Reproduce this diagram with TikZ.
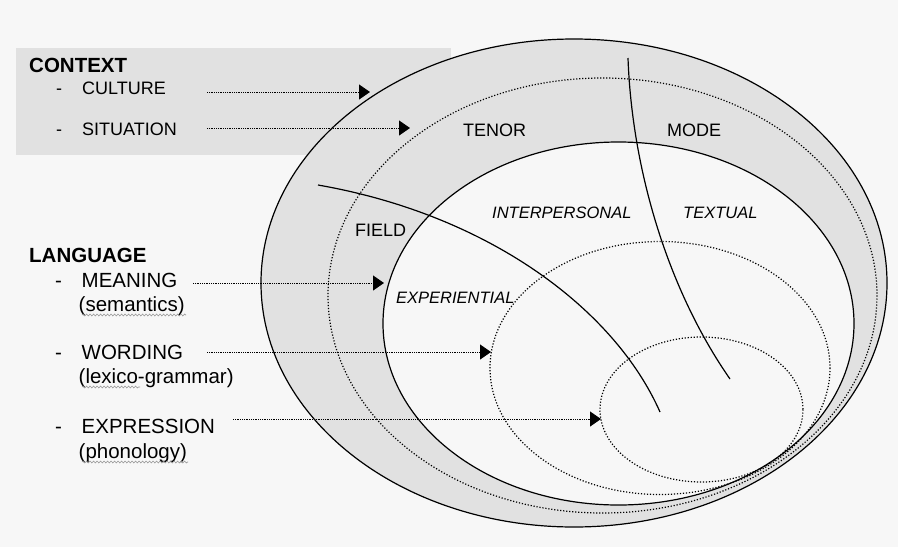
\documentclass[tikz,border=0pt]{standalone}
\usepackage{fontspec}
\setmainfont{Liberation Sans}
\usepackage{xcolor}
\usetikzlibrary{arrows.meta,decorations.pathmorphing}

\definecolor{paper}{RGB}{247,247,247}
\definecolor{band}{RGB}{225,225,225}
\definecolor{squiggle}{RGB}{150,150,150}

\begin{document}
\begin{tikzpicture}[x=1pt,y=-1pt,line join=round]
  \tikzstyle{headtxt}=[inner sep=0pt,anchor=base west,font=\fontsize{20.5}{22}\selectfont\bfseries]
  \tikzstyle{ctx}=[inner sep=0pt,anchor=base west,font=\fontsize{18}{20}\selectfont]
  \tikzstyle{lang}=[inner sep=0pt,anchor=base west,font=\fontsize{20.5}{22}\selectfont]
  \tikzstyle{stratum}=[inner sep=0pt,anchor=base west,font=\fontsize{18}{20}\selectfont]
  \tikzstyle{metafn}=[inner sep=0pt,anchor=base west,font=\fontsize{16.5}{18}\selectfont\itshape]
  \tikzstyle{ring}=[line width=1.2pt]
  \tikzstyle{dotring}=[line width=1.2pt,dash pattern=on 1.2pt off 1.8pt]
  \tikzstyle{feed}=[line width=1pt,dash pattern=on 1pt off 0.8pt,-{Triangle[length=11pt,width=15pt]}]
  \tikzstyle{spell}=[squiggle,line width=0.6pt,decorate,decoration={snake,amplitude=1pt,segment length=3.5pt}]
  \useasboundingbox (0,0) rectangle (898,547);
  % page and context box
  \fill[paper] (0,0) rectangle (898,547);
  \fill[band] (16,48) rectangle (451,155);
  % strata
  \filldraw[ring,fill=band] (574,283) ellipse [x radius=313,y radius=244];
  \draw[dotring] (602.5,295.5) ellipse [x radius=274.5,y radius=217.5];
  \filldraw[ring,fill=paper] (618.5,323.5) ellipse [x radius=235.5,y radius=181.5];
  \draw[dotring] (660,368) ellipse [x radius=170,y radius=126.5];
  \draw[dotring] (701.5,409.5) ellipse [x radius=101.5,y radius=72.5];
  % metafunction dividers
  \coordinate (fieldtop) at (318,185);
  \coordinate (fieldend) at (660,412);
  \coordinate (modetop) at (628,58);
  \coordinate (modeend) at (730,379);
  \draw[ring] (fieldtop) .. controls (490,215) and (615,310) .. (fieldend);
  \draw[ring] (modetop) .. controls (632,170) and (668,290) .. (modeend);

  % left hand lists
  \node[headtxt] (context) at (29,72) {CONTEXT};
  \node[ctx] (culture) at (56,94) {\makebox[26pt][l]{-}CULTURE};
  \node[ctx] (situation) at (56,135) {\makebox[26pt][l]{-}SITUATION};
  \node[headtxt] (language) at (29,262) {LANGUAGE};
  \node[lang] (meaning) at (55,287) {\makebox[26.5pt][l]{-}MEANING};
  \node[lang] (semantics) at (78.5,311) {(semantics)};
  \node[lang] (wording) at (55,359) {\makebox[26.5pt][l]{-}WORDING};
  \node[lang] (lexgram) at (78.5,383) {(lexico-grammar)};
  \node[lang] (expression) at (55,433) {\makebox[26.5pt][l]{-}EXPRESSION};
  \node[lang] (phonology) at (78.5,458) {(phonology)};
  \draw[spell] (82,315) -- (186,315);
  \draw[spell] (82,387) -- (140,387);
  \draw[spell] (82,462) -- (188,462);

  % labels inside the strata
  \node[stratum] (tenor) at (463,136) {TENOR};
  \node[stratum] (mode) at (667,136) {MODE};
  \node[stratum] (field) at (355,236) {FIELD};
  \node[metafn] (interpersonal) at (492,218) {INTERPERSONAL};
  \node[metafn] (textual) at (683,218) {TEXTUAL};
  \node[metafn] (experiential) at (396,303) {EXPERIENTIAL};

  % pointers
  \coordinate (culture-a) at (207,92);
  \coordinate (culture-b) at (370,92);
  \coordinate (situation-a) at (207,128);
  \coordinate (situation-b) at (410,128);
  \coordinate (meaning-a) at (193,283);
  \coordinate (meaning-b) at (384,283);
  \coordinate (wording-a) at (207,352);
  \coordinate (wording-b) at (491,352);
  \coordinate (expression-a) at (233,419);
  \coordinate (expression-b) at (601,419);
  \path[feed]
  (culture-a) edge (culture-b)
  (situation-a) edge (situation-b)
  (meaning-a) edge (meaning-b)
  (wording-a) edge (wording-b)
  (expression-a) edge (expression-b);
\end{tikzpicture}
\end{document}
